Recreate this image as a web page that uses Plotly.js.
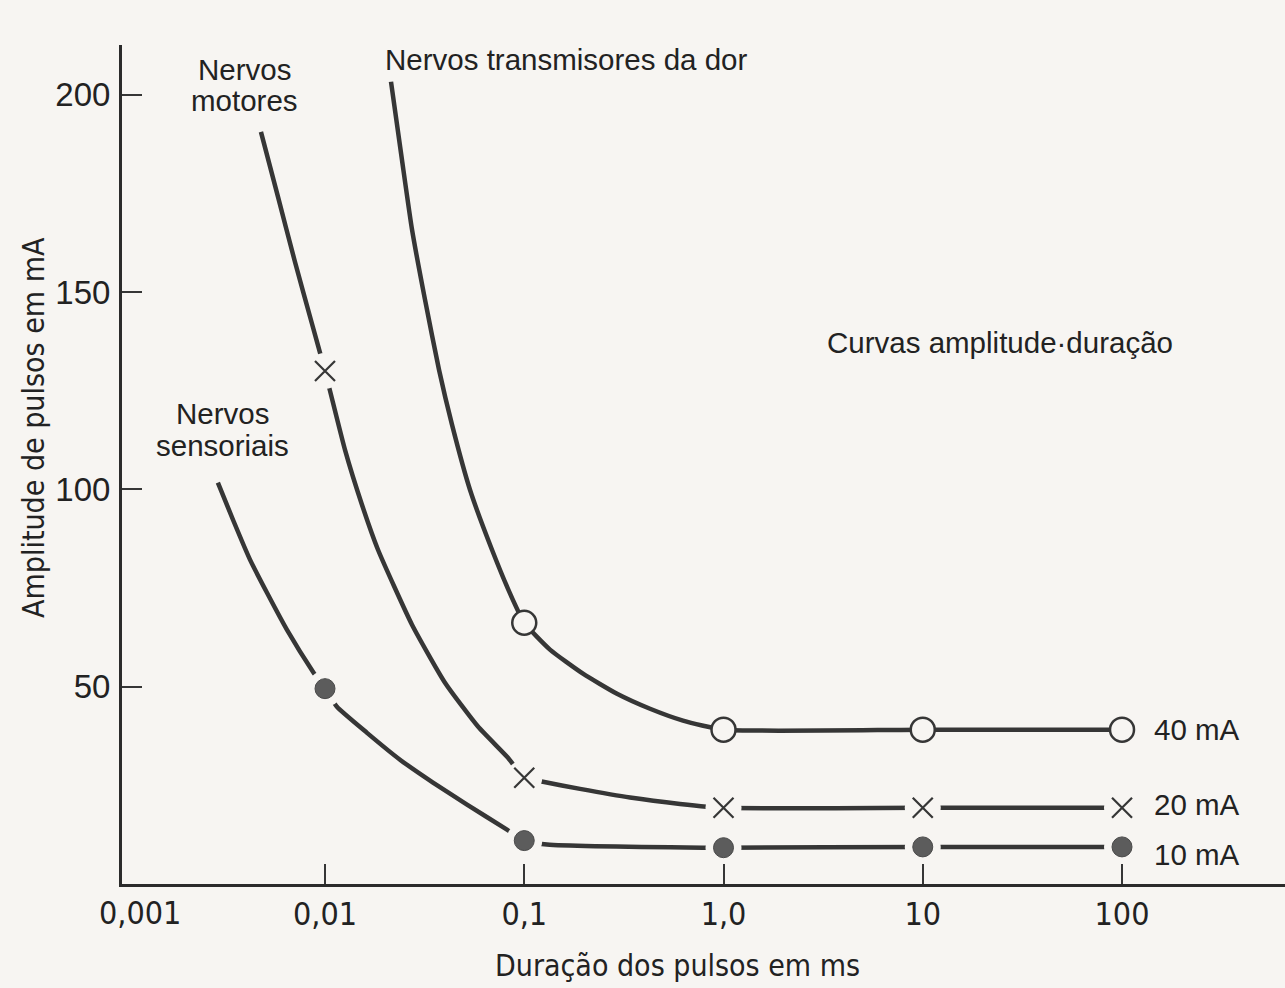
<!DOCTYPE html>
<html>
<head>
<meta charset="utf-8">
<script src="https://cdn.plot.ly/plotly-3.0.1.min.js"></script>
<style>
  html, body { margin: 0; padding: 0; background: #f7f5f2; }
  #chart { width: 1285px; height: 988px; }
</style>
</head>
<body>
<div id="chart"></div>
<script>
// ---------- data ----------
const seriesNames = ['40 mA', '20 mA', '10 mA'];
const curveLabels = ['Nervos transmisores da dor', 'Nervos motores', 'Nervos sensoriais'];
const chartNote = 'Curvas amplitude·duração';
const xAxisTitle = 'Duração dos pulsos em ms';
const yAxisTitle = 'Amplitude de pulsos em mA';

const xTickVals = [0.001, 0.01, 0.1, 1, 10, 100];
const xTickText = ['0,001', '0,01', '0,1', '1,0', '10', '100'];
const yTickVals = [50, 100, 150, 200];
const yTickText = ['50', '100', '150', '200'];

// 40 mA – nervos transmisores da dor (curve)
const painCurveX = [0.02144, 0.02434, 0.02734, 0.03178, 0.03734, 0.04339, 0.05341, 0.06887, 0.08679, 0.1, 0.1346, 0.1971, 0.2921, 0.4278, 0.6261, 1, 10, 100];
const painCurveY = [203.3, 183.5, 165.8, 148.0, 130.3, 116.4, 99.9, 84.7, 72.5, 66.2, 59.4, 53.3, 48.2, 44.4, 41.4, 39.1, 39.1, 39.1];
const painPointsX = [0.1, 1, 10, 100];
const painPointsY = [66.2, 39.1, 39.1, 39.1];

// 20 mA – nervos motores
const motorCurveX = [0.00477, 0.00581, 0.00707, 0.00861, 0.01, 0.0126, 0.01533, 0.01845, 0.02733, 0.04002, 0.05859, 0.08288, 0.1, 0.1242, 0.1905, 0.3394, 0.6049, 1, 10, 100];
const motorCurveY = [190.6, 174.1, 157.6, 141.9, 130.0, 110.0, 96.1, 84.7, 65.7, 51.0, 39.9, 32.0, 26.9, 25.9, 24.1, 21.9, 20.3, 19.3, 19.3, 19.3];
const motorPointsX = [0.01, 0.1, 1, 10, 100];
const motorPointsY = [130.0, 26.9, 19.3, 19.3, 19.3];

// 10 mA – nervos sensoriais
const sensCurveX = [0.0029, 0.003453, 0.004203, 0.005116, 0.006446, 0.0087, 0.01, 0.01148, 0.01625, 0.02379, 0.03483, 0.05161, 0.08192, 0.1, 0.13, 0.789, 1, 10, 100];
const sensCurveY = [101.7, 92.3, 82.2, 73.8, 64.4, 53.8, 49.5, 44.9, 38.3, 31.5, 25.7, 20.1, 13.8, 11.0, 10.0, 9.2, 9.2, 9.4, 9.4];
const sensPointsX = [0.01, 0.1, 1, 10, 100];
const sensPointsY = [49.5, 11.0, 9.2, 9.4, 9.4];

// ---------- styling ----------
const BG = '#f7f5f2';
const INK = '#363636';
const TEXT = '#222222';
const SANS = 'Liberation Sans, Arial, sans-serif';
const NARROW = 'Liberation Sans Narrow, Arial Narrow, DejaVu Sans Condensed, sans-serif';

const W = 1285, H = 988;
const M = { l: 122, r: 0, t: 45, b: 104 };
const plotW = W - M.l - M.r, plotH = H - M.t - M.b;
const px = x => (x - M.l) / plotW;          // pixel -> paper x
const py = y => (H - M.b - y) / plotH;      // pixel -> paper y

function curve(x, y) {
  return { x, y, type: 'scatter', mode: 'lines', hoverinfo: 'skip',
    line: { color: INK, width: 4.5, shape: 'spline', smoothing: 0.5 } };
}
function halo(x, y, size) {
  return { x, y, type: 'scatter', mode: 'markers', hoverinfo: 'skip',
    marker: { symbol: 'circle', size, color: BG, line: { width: 0 } } };
}

const traces = [
  curve(painCurveX, painCurveY),
  curve(motorCurveX, motorCurveY),
  curve(sensCurveX, sensCurveY),
  halo(motorPointsX, motorPointsY, 36),
  halo(sensPointsX, sensPointsY, 36),
  { name: seriesNames[0], x: painPointsX, y: painPointsY, type: 'scatter', mode: 'markers',
    marker: { symbol: 'circle', size: 24, color: BG, line: { color: INK, width: 2.5 } } },
  { name: seriesNames[1], x: motorPointsX, y: motorPointsY, type: 'scatter', mode: 'markers',
    marker: { symbol: 'x-thin', size: 20, color: INK, line: { color: INK, width: 2.2 } } },
  { name: seriesNames[2], x: sensPointsX, y: sensPointsY, type: 'scatter', mode: 'markers',
    marker: { symbol: 'circle', size: 20, color: '#5c5c5c', line: { color: '#4a4a4a', width: 1 } } }
];

function note(text, x, y, opts) {
  return Object.assign({ text, xref: 'paper', yref: 'paper', x: px(x), y: py(y),
    showarrow: false, xanchor: 'center', yanchor: 'middle',
    font: { family: SANS, size: 29.5, color: TEXT } }, opts || {});
}

const motorWords = curveLabels[1].split(' ');
const sensWords = curveLabels[2].split(' ');

const annotations = [
  note(motorWords[0], 244, 70),
  note(motorWords[1], 244, 101),
  note(curveLabels[0], 566, 60),
  note(sensWords[0], 222, 413),
  note(sensWords[1], 222, 446),
  note(chartNote, 1000, 343),
  note(seriesNames[0], 1152, 729, { xanchor: 'left' }),
  note(seriesNames[1], 1152, 804, { xanchor: 'left' }),
  note(seriesNames[2], 1152, 854, { xanchor: 'left' }),
  // first x tick label, nudged right off the axis corner as in the original
  note(xTickText[0], 140, 913, { font: { family: NARROW, size: 32, color: TEXT } }),
  // axis titles
  note(xAxisTitle, 677, 965, { font: { family: NARROW, size: 30, color: TEXT } }),
  note(yAxisTitle, 33, 428, { textangle: -90, font: { family: NARROW, size: 30, color: TEXT } })
];

const layout = {
  width: W, height: H,
  margin: M,
  paper_bgcolor: BG, plot_bgcolor: BG,
  showlegend: false,
  xaxis: {
    type: 'log',
    range: [-3.0188, 2.818],
    tickvals: xTickVals.slice(1), ticktext: xTickText.slice(1),
    ticks: 'inside', ticklen: 20, tickwidth: 2, tickcolor: INK,
    showline: true, linecolor: '#2b2b2b', linewidth: 3,
    showgrid: false, zeroline: false, fixedrange: true,
    tickfont: { family: NARROW, size: 32, color: TEXT },
    ticklabelstandoff: 0
  },
  yaxis: {
    range: [0, 212.6],
    tickvals: yTickVals, ticktext: yTickText,
    ticks: 'inside', ticklen: 20, tickwidth: 2, tickcolor: INK,
    showline: true, linecolor: '#2b2b2b', linewidth: 3,
    showgrid: false, zeroline: false, fixedrange: true,
    tickfont: { family: SANS, size: 33, color: TEXT },
    ticklabelstandoff: 2
  },
  annotations
};

Plotly.newPlot('chart', traces, layout, { staticPlot: true, displayModeBar: false });
</script>
</body>
</html>
